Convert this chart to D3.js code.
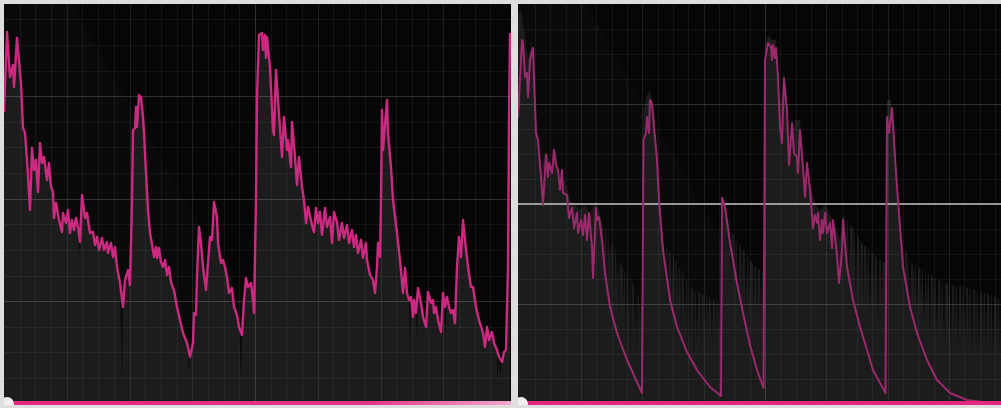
<!DOCTYPE html>
<html><head><meta charset="utf-8">
<script src="https://cdn.jsdelivr.net/npm/d3@7"></script>
<style>html,body{margin:0;padding:0;background:#dedede;overflow:hidden}svg{display:block}</style>
</head><body>
<script>
// ---- data (time in ms, level as depth in dB below full scale) ----
const leftEnvelope = [[0,10.8],[3,2.8],[6,7.3],[9,6.1],[10,8.3],[13,3.4],[17,7.9],[19,12.4],[21,12.9],[23,15.6],[26,20.6],[28,14.4],[30,16.6],[32,15.6],[34,18.8],[36,13.9],[38,15.9],[40,15.3],[43,17.6],[45,15.9],[47,18.3],[49,18.8],[50,21.4],[52,19.9],[55,21.6],[58,22.8],[59,20.9],[62,21.9],[64,20.6],[66,22.9],[68,21.6],[70,22.6],[72,21.4],[74,22.3],[76,23.8],[78,19.1],[81,21.4],[83,20.9],[86,22.9],[89,22.8],[91,24.1],[93,23.3],[95,24.6],[98,23.4],[100,24.6],[103,23.8],[104,24.9],[107,23.9],[109,25.3],[111,24.3],[113,26.3],[116,27.9],[119,30.3],[121,27.6],[124,26.6],[126,28.1],[128,19.6],[129,12.6],[131,12.4],[132,10.3],[133,12.3],[135,9.1],[137,9.3],[139,11.3],[140,12.9],[142,16.9],[144,20.6],[146,22.9],[149,24.6],[150,25.3],[152,24.3],[153,25.4],[155,24.4],[157,25.8],[159,26.3],[161,25.6],[163,27.1],[165,26.3],[167,27.8],[169,28.4],[170,28.6],[173,30.3],[176,31.6],[179,32.9],[183,33.9],[186,35.3],[189,33.9],[190,30.9],[192,31.1],[193,27.3],[195,22.3],[197,23.9],[199,26.3],[202,28.6],[204,25.9],[206,23.3],[208,23.6],[210,19.8],[213,21.3],[214,23.9],[217,25.9],[219,25.6],[221,26.3],[223,27.3],[225,28.9],[228,28.4],[230,30.3],[233,31.1],[235,32.3],[238,33.1],[240,29.6],[242,27.4],[244,28.3],[247,27.9],[249,29.6],[250,30.9],[252,19.6],[253,9.3],[255,3.1],[258,2.9],[259,4.6],[261,3.1],[262,5.4],[263,3.3],[266,6.3],[269,12.6],[270,13.1],[272,6.6],[274,9.6],[278,15.3],[280,11.3],[283,14.6],[284,13.6],[287,16.3],[288,11.8],[291,15.3],[293,18.1],[295,15.3],[298,18.3],[300,19.6],[302,21.9],[304,20.3],[308,22.1],[310,22.8],[312,20.4],[314,21.9],[316,20.8],[318,23.1],[321,20.4],[323,22.3],[326,21.3],[328,23.9],[330,20.8],[333,21.8],[335,23.6],[338,21.9],[340,23.4],[343,22.1],[345,23.9],[348,22.6],[350,24.3],[352,23.1],[354,24.9],[357,23.6],[359,25.4],[362,23.9],[363,25.6],[366,27.1],[369,27.6],[371,28.9],[373,26.3],[374,23.9],[376,25.3],[377,19.6],[378,10.6],[379,14.6],[383,9.6],[384,12.9],[387,16.3],[389,19.6],[393,22.9],[396,25.6],[399,28.9],[401,26.4],[403,28.9],[405,29.6],[407,29.3],[409,31.3],[410,29.6],[412,30.9],[414,28.4],[417,29.9],[419,31.3],[422,32.3],[424,28.8],[427,29.9],[429,29.6],[430,30.9],[432,30.3],[434,31.6],[437,32.8],[439,28.9],[441,30.3],[443,29.3],[445,30.3],[447,30.9],[449,30.6],[451,31.9],[453,26.3],[455,23.3],[457,25.3],[459,21.6],[461,23.6],[464,26.3],[467,28.3],[469,28.3],[472,30.3],[475,31.6],[479,32.9],[481,34.3],[483,32.3],[485,33.6],[488,32.8],[490,33.9],[493,34.6],[495,35.3],[498,35.8],[500,34.8],[502,34.6],[504,26.3],[505,11.6],[506,2.9]];
const leftInputDips = [[75,25.1],[118,38.1],[185,36.6],[237,37.6],[406,34.6],[413,33.6],[441,33.1],[493,37.6],[496,37.1]];

const rightEnvelope = [[0,11.4],[4,3.6],[5,3.9],[7,7.3],[9,6.9],[10,9.3],[12,5.6],[15,4.4],[16,7.3],[18,12.9],[20,13.6],[23,17.3],[25,20.1],[28,15.1],[30,17.3],[31,15.9],[34,16.9],[36,14.6],[38,16.1],[40,16.6],[42,18.6],[44,16.6],[45,18.9],[49,19.1],[51,21.4],[54,20.4],[56,22.4],[59,20.9],[60,22.9],[63,21.6],[65,23.1],[67,21.1],[69,23.6],[71,20.9],[74,24.3],[75,27.4],[77,22.9],[78,20.4],[79,21.6],[81,21.3],[84,23.6],[87,26.9],[92,30.3],[99,32.9],[109,35.6],[119,37.8],[124,38.9],[125.5,13.6],[128,12.9],[129,11.3],[131,12.9],[132,9.6],[134,9.9],[136,12.3],[139,15.6],[141,19.6],[145,24.6],[152,29.6],[159,32.3],[169,34.8],[179,36.6],[192,38.3],[203,39.2],[204,19.4],[207,20.3],[212,23.9],[219,27.9],[225,30.9],[232,34.1],[239,36.6],[245.5,38.4],[247,5.6],[250,3.9],[253,4.3],[254,5.6],[255,4.1],[257,5.4],[258,4.4],[260,7.3],[262,12.3],[264,13.9],[266,7.4],[269,10.6],[271,16.1],[274,11.9],[276,14.9],[279,15.3],[280,16.9],[282,12.6],[285,16.3],[287,19.3],[289,15.9],[292,18.6],[295,22.4],[297,21.1],[299,21.9],[300,20.9],[302,23.6],[304,21.6],[305,22.9],[307,20.9],[309,22.9],[312,21.9],[314,24.4],[315,21.6],[317,23.3],[319,25.1],[321,27.9],[324,24.6],[325,21.6],[329,26.3],[335,29.6],[342,32.3],[349,34.6],[355,36.6],[362,37.9],[367.5,38.9],[369,11.3],[371,12.9],[374,10.4],[376,13.6],[378,16.9],[380,19.6],[385,26.3],[392,30.3],[399,32.9],[409,35.6],[419,37.6],[432,38.9],[449,39.6],[465,39.8],[483,39.9]];
const rightInputBase = [[0,1.1],[3,0.6],[6,2.6],[10,5.6],[14,3.6],[18,11.6],[23,16.6],[28,14.6],[34,16.1],[38,14.6],[42,18.1],[47,17.6],[52,19.6],[57,20.1],[62,20.6],[67,20.1],[72,21.1],[77,19.6],[81,20.6],[84,22],[95,24],[105,26.5],[115,28],[124.5,30],[125.5,10.6],[129,9.1],[132,8.6],[136,10.6],[140,15.6],[144,24],[155,25],[165,27],[175,28.5],[185,29],[195,29.5],[203.5,30],[204.5,19.1],[207,19.6],[215,23],[225,24.5],[235,26],[246,27],[247,4.6],[250,3.1],[254,3.6],[258,3.6],[262,10.6],[266,6.6],[272,14.6],[277,11.6],[282,11.6],[287,18.1],[292,17.6],[297,20.1],[302,20.6],[307,20.1],[312,21.1],[317,22.1],[322,23.6],[325,21],[335,22.5],[345,24],[355,25],[368,26],[369,9.6],[373,9.6],[377,15.6],[380,19.6],[385,24],[395,26],[410,27],[430,28],[455,28.5],[483,29.5]];
// dips: [time, depth, half width]
const rightInputDips = [[86,25,1],[89,28,0.8],[92,26,1.5],[96,30,0.8],[99,28,1.2],[101,32,0.7],[105,30,1.5],[108,34,0.8],[111,31,1],[113,36,0.7],[117,33,1.2],[119,35.5,0.8],[122,32,1],[147,28,1],[150,30,0.8],[154,29,1.5],[157,32,0.8],[160,30,1.2],[163,33,0.7],[167,32,1.4],[170,35,0.8],[172,33,1],[176,35,0.8],[179,34,1.3],[183,35.5,0.8],[187,34,1.2],[190,33,0.8],[194,34,1.3],[198,33,0.8],[201,33,1],[210,25,0.8],[213,28,1.2],[217,27,0.8],[220,30,1.3],[224,29,0.8],[228,31,1.2],[231,30,0.8],[235,32,1.3],[239,31,0.8],[243,31,1],[328,25,0.8],[331,27,1.2],[335,26,0.8],[338,29,1.3],[342,28,0.8],[345,30,1.2],[349,29,0.8],[352,31,1.3],[356,30,0.8],[360,31.5,1.2],[364,30,0.8],[383,27,0.8],[386,29,1.2],[390,28,0.8],[392,30.5,1.3],[396,29,0.8],[399,31,1.2],[403,30,0.8],[406,32,1.4],[409,31,0.8],[412,33,1.1],[416,31.5,0.8],[419,33,1.3],[423,32,0.8],[426,34,1.2],[430,32.5,0.8],[433,34,1.3],[437,33,0.8],[440,34.5,1.1],[444,33,0.8],[447,34.5,1.3],[451,33.5,0.8],[454,35,1.2],[458,34,0.8],[461,35,1.3],[465,34,0.8],[468,35,1.1],[472,34.5,0.8],[475,35,1.3],[479,34.5,0.8],[482,35,1]];

// grid tick positions
const leftGridDepths = [1.5,4.1,6.7,9.2,11.8,14.3,16.9,19.5,22.0,24.6,27.2,29.7,32.3,34.8,37.4];
const leftMajorDepths = [9.2,19.5,29.7];
const rightGridDepths = [2.5,5,7.5,10,12.5,15,17.5,20,22.5,25,27.5,30,32.5,35,37.5];
const rightMajorDepths = [10,30];
const rightThreshold = 20;
const leftGridTimes = d3.range(1,32).map(k => k*15.69);
const rightGridTimes = d3.range(1,32).map(k => 1.7 + k*15.33);

const W = 1001, H = 408;
const svg = d3.select("body").append("svg").attr("width", W).attr("height", H);
const defs = svg.append("defs");

const barGrad = defs.append("linearGradient").attr("id","barGradL").attr("x1","0").attr("x2","1");
barGrad.append("stop").attr("offset","0").attr("stop-color","#e0287f");
barGrad.append("stop").attr("offset","0.72").attr("stop-color","#e4338a");
barGrad.append("stop").attr("offset","1").attr("stop-color","#f3a8cd");

function withDips(base, dips) {
  const interp = t => {
    for (let i = 1; i < base.length; i++) {
      if (base[i][0] >= t) {
        const a = base[i-1], b = base[i];
        const f = (t - a[0]) / ((b[0] - a[0]) || 1);
        return a[1] + f * (b[1] - a[1]);
      }
    }
    return base[base.length-1][1];
  };
  const pts = base.slice();
  dips.forEach(([t, v, w]) => {
    pts.push([t - w, interp(t - w)], [t, v], [t + w, interp(t + w)]);
  });
  return pts.sort((a, b) => a[0] - b[0]);
}

function panel(id, x0, x1, tMax, env, input, gridT, gridD, majorD, lineColor, lineWidth, threshold) {
  const top = 4, bottom = 405;
  const x = d3.scaleLinear().domain([0, tMax]).range([x0, x0 + tMax]);
  const y = d3.scaleLinear().domain([0, 40]).range([4, 404]);
  defs.append("clipPath").attr("id", "clip" + id)
    .append("rect").attr("x", x0).attr("y", top).attr("width", x1 - x0).attr("height", bottom - top);
  const g = svg.append("g").attr("clip-path", `url(#clip${id})`);
  g.append("rect").attr("x", x0).attr("y", top).attr("width", x1 - x0).attr("height", bottom - top).attr("fill", "#060606");
  g.append("path").attr("d", `M${x0},${top}L${x0+68},${top}L${x0+300},${bottom}L${x0+33},${bottom}L${x0},${bottom-64}Z`)
    .attr("fill", "#8080b0").attr("opacity", 0.035);
  const area = d3.area().x(d => x(d[0])).y0(bottom).y1(d => y(d[1]));
  g.append("path").datum(input).attr("d", area).attr("fill", "#1c1c1c");
  g.selectAll(null).data(gridT).join("line")
    .attr("x1", d => Math.round(x(d)) + 0.5).attr("x2", d => Math.round(x(d)) + 0.5)
    .attr("y1", top).attr("y2", bottom)
    .attr("stroke", "#ffffff")
    .attr("stroke-opacity", (d, i) => (i + 1) === 16 ? 0.16 : ((i + 1) % 4 === 0 ? 0.09 : 0.055));
  g.selectAll(null).data(gridD).join("line")
    .attr("y1", d => Math.round(y(d)) + 0.5).attr("y2", d => Math.round(y(d)) + 0.5)
    .attr("x1", x0).attr("x2", x1)
    .attr("stroke", "#ffffff")
    .attr("stroke-opacity", d => majorD.includes(d) ? 0.17 : 0.055);
  if (threshold != null) {
    g.append("line").attr("x1", x0).attr("x2", x1)
      .attr("y1", y(threshold)).attr("y2", y(threshold))
      .attr("stroke", "#c4c4c4").attr("stroke-width", 1.5);
  }
  const line = d3.line().x(d => x(d[0])).y(d => y(d[1]));
  g.append("path").datum(env).attr("d", line).attr("fill", "none")
    .attr("stroke", lineColor).attr("stroke-width", lineWidth).attr("stroke-linejoin", "round");
  g.append("rect").attr("x", x0).attr("y", 401).attr("width", x1 - x0).attr("height", 4)
    .attr("fill", id === "L" ? "url(#barGradL)" : "#e0287f");
  g.append("circle").attr("cx", x0 + 3).attr("cy", 404).attr("r", 7).attr("fill", "#f3eef1");
}

const leftInput = leftEnvelope.concat(leftInputDips).sort((a, b) => a[0] - b[0]);
const rightInput = withDips(rightInputBase, rightInputDips);
panel("L", 4, 511, 507, leftEnvelope, leftInput, leftGridTimes, leftGridDepths, leftMajorDepths, "#cc2a80", 2.4, null);
panel("R", 518, 1001, 491, rightEnvelope, rightInput, rightGridTimes, rightGridDepths, rightMajorDepths, "#9a2a6c", 2, rightThreshold);
</script>
</body></html>
